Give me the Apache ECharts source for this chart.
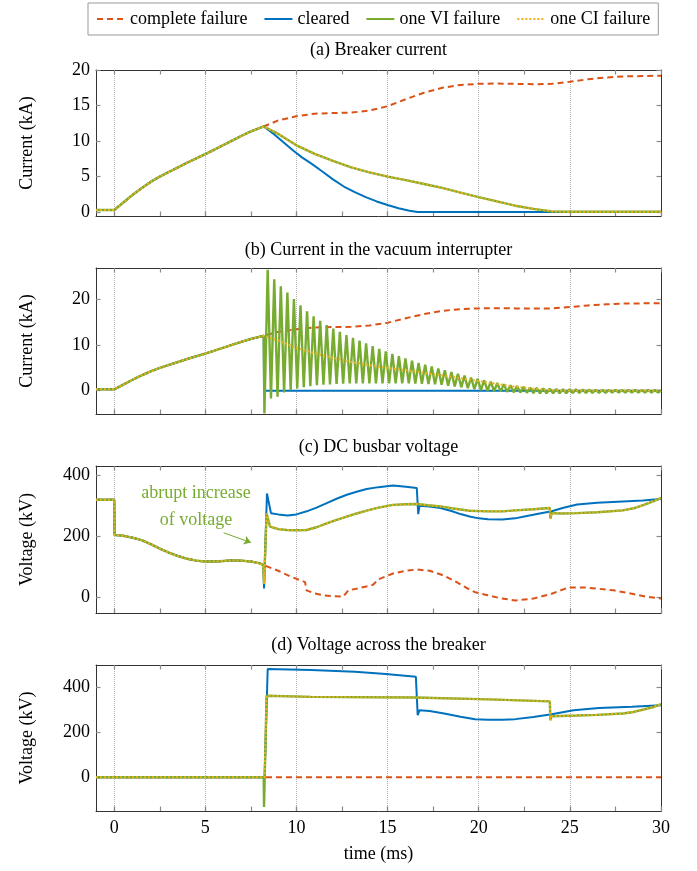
<!DOCTYPE html>
<html>
<head>
<meta charset="utf-8">
<script src="https://cdn.jsdelivr.net/npm/echarts@6/dist/echarts.min.js"></script>
<style>
  html, body { margin: 0; padding: 0; background: #fff; }
  #chart { width: 697px; height: 871px; }
</style>
</head>
<body>
<div id="chart"></div>
<script>
// ---- series names ----
const NAMES = ['complete failure', 'cleared', 'one VI failure', 'one CI failure'];

// ---- tick values ----
const X_MAJOR = [0, 5, 10, 15, 20, 25, 30];
const X_ALL = [0, 2.5, 5, 7.5, 10, 12.5, 15, 17.5, 20, 22.5, 25, 27.5, 30];
const Y_TICKS_A = [0, 5, 10, 15, 20];
const Y_TICKS_B = [0, 10, 20];
const Y_TICKS_C = [0, 200, 400];
const Y_TICKS_D = [0, 200, 400];

// ---- (a)/(b) current before the fault clearing starts, [time ms, kA] ----
const PRE_CURRENT = [[-1,0.3],[0,0.3],[0.5,1.35],[1,2.4],[1.5,3.35],[2,4.25],[2.5,5.0],[3,5.65],[3.5,6.3],[4,6.95],[4.5,7.55],[5,8.15],[5.5,8.8],[6,9.45],[6.5,10.1],[7,10.75],[7.5,11.35],[8,11.85],[8.2,12.05]];

// ---- (a) breaker current after 8.3 ms ----
const CURRENT_COMPLETE = [[8.3,12.2],[9,12.9],[10,13.5],[11,13.85],[12,13.95],[13,14.0],[14,14.3],[15,14.9],[16,15.9],[17,16.8],[18,17.5],[19,17.9],[20,18.05],[21,18.1],[22,18.05],[23,18.0],[24,18.05],[25,18.35],[26,18.7],[27,18.95],[28,19.1],[29,19.15],[30,19.2]];
const CURRENT_CLEARED = [[8.3,12.2],[8.8,10.9],[9.3,9.8],[9.8,8.7],[10.3,7.7],[10.8,6.85],[11.4,5.75],[12,4.6],[12.6,3.6],[13.2,2.8],[13.8,2.1],[14.4,1.5],[15,1.0],[15.6,0.55],[16.2,0.2],[16.65,0],[30,0]];
const CURRENT_ONE_FAIL = [[8.3,12.2],[9,11.0],[10,9.4],[11,8.2],[12,7.2],[13,6.3],[14,5.6],[15,5.0],[16,4.5],[17,3.95],[18,3.4],[19,2.75],[20,2.1],[21,1.5],[22,0.9],[23,0.45],[24,0.1],[25,0.05],[30,0.05]];

// ---- (b) vacuum interrupter current ----
const VI_CLEARED_POST = [[8.22,0],[30,0]];
const VI_FAIL_DIP = [[8.24,-5.0]];
// oscillation after the failed interrupter: successive maxima / minima (kA)
const VI_OSC_START = 8.42;   // time of the first maximum, ms
const VI_OSC_PERIOD = 0.36;  // ms
const VI_PEAKS = [26.5,24.4,22.9,21.5,20.1,18.7,17.4,16.3,15.3,14.4,
  13.6,12.9,12.2,11.6,11.0,10.4,9.8,9.2,8.6,8.1,
  7.6,7.1,6.6,6.1,5.7,5.3,4.9,4.5,4.1,3.7,
  3.3,2.9,2.6,2.3,2.0,1.7,1.45,1.2,1.0,0.85,
  0.7,0.6,0.5,0.45,0.4,0.35,0.3,0.3,0.25,0.25,
  0.2,0.2,0.2,0.2,0.15,0.15,0.15,0.15,0.15,0.15];
const VI_TROUGHS = [-1.7,-1.3,-0.4,0.1,0.5,0.8,1.0,1.2,1.3,1.4,
  1.5,1.55,1.6,1.6,1.6,1.6,1.6,1.6,1.6,1.6,
  1.6,1.6,1.55,1.5,1.45,1.4,1.3,1.1,0.95,0.75,
  0.55,0.35,0.15,0.0,-0.1,-0.2,-0.25,-0.35,-0.4,-0.45,
  -0.5,-0.55,-0.55,-0.55,-0.55,-0.55,-0.5,-0.5,-0.5,-0.45,
  -0.45,-0.45,-0.4,-0.4,-0.4,-0.4,-0.4,-0.4,-0.4,-0.4];
const VI_OSC_END = [[30,0]];

// ---- (c) DC busbar voltage, [time ms, kV] ----
const PRE_BUSBAR = [[-1,320],[0,320],[0.02,205],[0.5,202],[1,196],[1.5,188],[2,175],[2.5,160],[3,147],[3.5,136],[4,127],[4.5,121],[5,118],[5.5,118],[6,120],[6.5,122],[7,121],[7.5,118],[8,112],[8.18,106]];
const BUSBAR_COMPLETE = [[8.3,104],[9,88],[9.64,70],[10.47,51],[10.55,24],[11,14],[11.47,8],[12,5],[12.57,4],[12.85,24],[13.5,32],[14.2,42],[14.5,60],[15.3,79],[16,88],[16.6,92],[17.3,88],[18,74],[18.6,57],[19.1,40],[19.5,26],[19.8,18],[20.5,8],[21.2,-2],[22,-9],[23,-3],[24,13],[24.9,33],[25.9,33],[26.6,29],[27.4,24],[28.4,13],[29.2,3],[30,-3]];
const BUSBAR_CLEARED = [[8.22,30],[8.38,340],[8.6,276],[9,272],[9.5,268],[10,272],[10.56,282],[11.1,294],[11.66,309],[12.2,323],[12.76,336],[13.3,346],[13.85,355],[14.5,361],[15.3,366],[16,362],[16.6,358],[16.68,273],[16.75,300],[17.3,298],[17.9,293],[18.5,283],[19,273],[19.5,265],[20,259],[20.5,256],[21.3,255],[22,259],[22.5,265],[23.2,273],[24,282],[24.6,293],[25.4,304],[26.5,310],[27.9,314],[29,317],[30,322]];
const BUSBAR_ONE_FAIL = [[8.22,45],[8.36,275],[8.55,232],[9,224],[9.46,221],[10,220],[10.56,221],[11.1,230],[11.66,243],[12.2,254],[12.76,265],[13.3,275],[13.85,284],[14.5,294],[15.3,303],[16,305],[16.6,306],[17.2,302],[17.9,298],[18.5,292],[19.5,284],[20.5,282],[21.3,282],[22,285],[23,289],[23.9,293],[23.93,258],[24,276],[24.5,275],[25.4,276],[26.5,279],[27.9,285],[28.5,292],[29.1,304],[29.6,315],[30,326]];

// ---- (d) voltage across the breaker, [time ms, kV] ----
const BREAKER_V_COMPLETE = [[-1,0],[30,0]];
const BREAKER_V_CLEARED = [[-1,0],[8.25,0],[8.42,482],[10.8,478],[13.2,470],[14.9,460],[16.55,448],[16.65,277],[16.75,299],[17.3,295],[18.1,284],[19,270],[19.8,258],[20.5,256],[21.3,256],[22,259],[23,269],[24,281],[25.2,299],[26.6,309],[28.4,314],[30,321]];
const BREAKER_V_VI_FAIL = [[-1,0],[8.2,0],[8.22,-132],[8.36,363],[10.8,358],[16.5,355],[20.55,347],[23.9,338],[23.93,254],[24,272],[25.4,275],[26.5,278],[27.9,284],[28.5,291],[29.1,303],[29.6,313],[30,326]];
const BREAKER_V_CI_FAIL = [[-1,0],[8.25,0],[8.36,363],[10.8,358],[16.5,355],[20.55,347],[23.9,338],[23.93,254],[24,272],[25.4,275],[26.5,278],[27.9,284],[28.5,291],[29.1,303],[29.6,313],[30,326]];

// ---- annotation arrow in (c), [time ms, kV] ----
const ANNOT_ARROW = [[6.0, 212], [7.5, 180]];

// ---------------------------------------------------------------
function viOscillation() {
  const pts = [];
  for (let k = 0; k < VI_PEAKS.length; k++) {
    const t = VI_OSC_START + k * VI_OSC_PERIOD;
    pts.push([+t.toFixed(3), VI_PEAKS[k]]);
    pts.push([+(t + VI_OSC_PERIOD / 2).toFixed(3), VI_TROUGHS[k]]);
  }
  return pts;
}

const FONT = 'Liberation Serif';
const COLORS = ['#D95319', '#0072BD', '#77AC30', '#EDB120'];
const LINE_STYLES = [
  { color: COLORS[0], width: 2, type: [6, 4] },
  { color: COLORS[1], width: 2, type: 'solid' },
  { color: COLORS[2], width: 2.4, type: 'solid' },
  { color: COLORS[3], width: 2, type: [2, 2] }
];

const GRID_LEFT = 96, GRID_RIGHT = 36;
const PANELS = [
  { top: 70,  height: 146, min: -0.55, max: 20,   ticks: Y_TICKS_A, name: 'Current (kA)', title: '(a) Breaker current', titleY: 50,
    data: [PRE_CURRENT.concat(CURRENT_COMPLETE), PRE_CURRENT.concat(CURRENT_CLEARED), PRE_CURRENT.concat(CURRENT_ONE_FAIL), PRE_CURRENT.concat(CURRENT_ONE_FAIL)] },
  { top: 268, height: 146, min: -5.1,  max: 26.9, ticks: Y_TICKS_B, name: 'Current (kA)', title: '(b) Current in the vacuum interrupter', titleY: 250,
    data: [PRE_CURRENT.concat(CURRENT_COMPLETE), PRE_CURRENT.concat(VI_CLEARED_POST), PRE_CURRENT.concat(VI_FAIL_DIP, viOscillation(), VI_OSC_END), PRE_CURRENT.concat(CURRENT_ONE_FAIL)] },
  { top: 466, height: 147, min: -50,   max: 430,  ticks: Y_TICKS_C, name: 'Voltage (kV)', title: '(c) DC busbar voltage', titleY: 447,
    data: [PRE_BUSBAR.concat(BUSBAR_COMPLETE), PRE_BUSBAR.concat(BUSBAR_CLEARED), PRE_BUSBAR.concat(BUSBAR_ONE_FAIL), PRE_BUSBAR.concat(BUSBAR_ONE_FAIL)] },
  { top: 665, height: 146, min: -150,  max: 500,  ticks: Y_TICKS_D, name: 'Voltage (kV)', title: '(d) Voltage across the breaker', titleY: 645,
    data: [BREAKER_V_COMPLETE, BREAKER_V_CLEARED, BREAKER_V_VI_FAIL, BREAKER_V_CI_FAIL] }
];

const textBase = { fontFamily: FONT, fontSize: 18, color: '#000' };
const borderLine = { show: true, onZero: false, lineStyle: { color: '#333', width: 1 } };
const tickStyle = { color: '#8a8a8a', width: 1.2 };

const grids = [], xAxes = [], yAxes = [], series = [], graphics = [];

PANELS.forEach((p, i) => {
  const last = i === PANELS.length - 1;
  grids.push({ left: GRID_LEFT, right: GRID_RIGHT, top: p.top, height: p.height, outerBoundsMode: 'none', containLabel: false });

  // bottom axis: major ticks, labels, dotted grid
  xAxes.push({
    gridIndex: i, type: 'value', min: -1, max: 30, position: 'bottom',
    axisLine: borderLine,
    axisTick: { show: true, inside: true, length: 4.5, customValues: X_MAJOR, lineStyle: tickStyle },
    axisLabel: { show: last, customValues: X_MAJOR, margin: 8, ...textBase },
    splitLine: { show: true, lineStyle: { type: 'dotted', color: '#b5b5b5', width: 1 } },
    name: last ? 'time (ms)' : '', nameLocation: 'middle', nameGap: 34,
    nameTextStyle: textBase
  });
  // bottom axis: intermediate ticks
  xAxes.push({
    gridIndex: i, type: 'value', min: -1, max: 30, position: 'bottom',
    axisLine: { show: false, onZero: false },
    axisTick: { show: true, inside: true, length: 4.5, customValues: X_ALL, lineStyle: tickStyle },
    axisLabel: { show: false }, splitLine: { show: false }
  });
  // top mirror
  xAxes.push({
    gridIndex: i, type: 'value', min: -1, max: 30, position: 'top',
    axisLine: borderLine,
    axisTick: { show: true, inside: true, length: 4.5, customValues: X_ALL, lineStyle: tickStyle },
    axisLabel: { show: false }, splitLine: { show: false }
  });

  yAxes.push({
    gridIndex: i, type: 'value', min: p.min, max: p.max, position: 'left',
    axisLine: borderLine,
    axisTick: { show: true, inside: true, length: 4.5, customValues: p.ticks, lineStyle: tickStyle },
    axisLabel: { show: true, customValues: p.ticks, margin: 6, ...textBase },
    splitLine: { show: false },
    name: p.name, nameLocation: 'middle', nameGap: 60, nameRotate: 90,
    nameTextStyle: textBase
  });
  yAxes.push({
    gridIndex: i, type: 'value', min: p.min, max: p.max, position: 'right',
    axisLine: borderLine,
    axisTick: { show: true, inside: true, length: 4.5, customValues: p.ticks, lineStyle: tickStyle },
    axisLabel: { show: false }, splitLine: { show: false }
  });

  p.data.forEach((d, s) => {
    const ser = {
      name: NAMES[s], type: 'line', xAxisIndex: 3 * i, yAxisIndex: 2 * i,
      data: d, symbol: 'none', showSymbol: false, smooth: false,
      lineStyle: LINE_STYLES[s], itemStyle: { color: COLORS[s] },
      z: 2 + s, animation: false, silent: true
    };
    if (i === 2 && s === 2) {
      ser.markLine = {
        silent: true, animation: false, symbol: ['none', 'arrow'], symbolSize: 7,
        label: { show: false },
        lineStyle: { color: COLORS[2], width: 1, type: 'solid' },
        data: [[{ coord: ANNOT_ARROW[0] }, { coord: ANNOT_ARROW[1] }]]
      };
    }
    series.push(ser);
  });

  graphics.push({
    type: 'text', x: GRID_LEFT + (697 - GRID_LEFT - GRID_RIGHT) / 2, y: p.titleY,
    style: { text: p.title, font: '18px "Liberation Serif"', fill: '#000', textAlign: 'center', textVerticalAlign: 'middle' }
  });
});

graphics.push({
  type: 'text', x: 196, y: 493,
  style: { text: 'abrupt increase', font: '18px "Liberation Serif"', fill: COLORS[2], textAlign: 'center', textVerticalAlign: 'middle' }
});
graphics.push({
  type: 'text', x: 196, y: 520,
  style: { text: 'of voltage', font: '18px "Liberation Serif"', fill: COLORS[2], textAlign: 'center', textVerticalAlign: 'middle' }
});

const chart = echarts.init(document.getElementById('chart'), null, { renderer: 'canvas' });
chart.setOption({
  backgroundColor: '#fff',
  animation: false,
  textStyle: { fontFamily: FONT },
  legend: {
    data: NAMES, left: 88, top: 3, orient: 'horizontal',
    padding: [7, 8], itemGap: 16, itemWidth: 28, itemHeight: 14,
    borderColor: '#999', borderWidth: 1,
    itemStyle: { opacity: 0 },
    textStyle: { ...textBase },
    selectedMode: false
  },
  grid: grids,
  xAxis: xAxes,
  yAxis: yAxes,
  series: series,
  graphic: graphics
});
</script>
</body>
</html>
